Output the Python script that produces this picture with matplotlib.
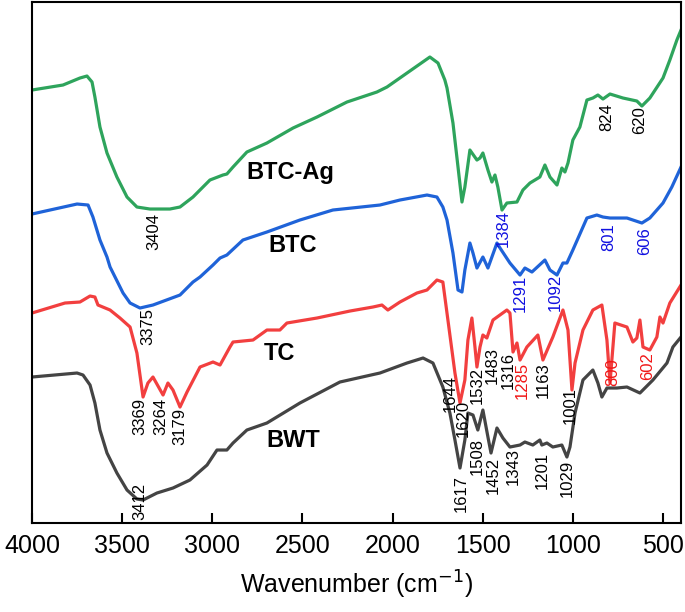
import matplotlib
matplotlib.use("Agg")
import matplotlib.pyplot as plt

plt.rcParams['font.family'] = ['Liberation Sans', 'DejaVu Sans']

# spectra: wavenumber (cm-1) and transmittance (a.u., stacked)
btcag_wn = [4000, 3828, 3734, 3695, 3667, 3651, 3623, 3584, 3529, 3473, 3418, 3346, 3235, 3179,
            3107, 3013, 2941, 2919, 2885, 2808, 2697, 2552, 2419, 2253, 2087, 2031, 1793, 1748,
            1710, 1698, 1665, 1637,
            1615, 1599, 1571, 1532, 1515, 1499, 1471, 1449, 1432, 1416, 1393, 1366, 1310, 1277,
            1238, 1183, 1155, 1127, 1088, 1061, 1044, 1027, 1000, 961, 922, 889, 861, 833, 794,
            722, 645, 617, 573, 500, 462, 423, 400]
btcag_t = [433, 438, 445, 447, 441, 426, 396, 370, 346, 326, 316, 314, 314, 316,
           326, 343, 348, 349, 356, 371, 380, 395, 406, 421, 431, 436, 466, 460,
           443, 435, 400, 356,
           321, 336, 373, 363, 365, 370, 353, 341, 348, 336, 313, 320, 321, 333,
           340, 346, 358, 346, 338, 355, 351, 360, 383, 396, 423, 425, 428, 424, 429,
           425, 422, 417, 425, 445, 463, 483, 493]

btc_wn = [4000, 3750, 3689, 3662, 3623, 3584, 3567, 3495, 3456, 3401, 3329, 3179, 3107, 3068,
          2996, 2957, 2919, 2830, 2697, 2514, 2331, 2070, 1959, 1809, 1754, 1721, 1698, 1665,
          1637, 1615,
          1599, 1571, 1554, 1532, 1499, 1471, 1421, 1404, 1349, 1293, 1266, 1227, 1155, 1127,
          1088, 1055, 1033, 1000, 922, 867, 833, 794, 700, 617, 573, 500, 451, 400]
btc_t = [309, 319, 318, 306, 283, 266, 256, 230, 220, 215, 218, 228, 241, 246,
         258, 265, 268, 283, 291, 303, 313, 318, 323, 328, 326, 316, 303, 270,
         233, 231,
         253, 280, 270, 255, 266, 255, 280, 275, 260, 248, 255, 251, 263, 253,
         248, 260, 260, 273, 305, 308, 306, 305, 305, 300, 305, 320, 336, 356]

tc_wn = [4000, 3817, 3734, 3678, 3651, 3634, 3567, 3512, 3456, 3418, 3384, 3357, 3329, 3273,
         3246, 3218, 3179, 3140, 3068, 2996, 2957, 2902, 2885, 2774, 2697, 2625, 2586, 2419,
         2236, 2109, 2059, 2026, 1959, 1865, 1809, 1754, 1721, 1693,
         1654, 1626, 1599, 1582, 1560, 1543, 1532, 1515, 1499,
         1477, 1443, 1366, 1349, 1332, 1310, 1293, 1255, 1194, 1166, 1111, 1055, 1027, 1005,
         988, 944, 889, 839, 811, 794, 767, 700, 667, 645, 628, 611, 573, 534, 517, 500, 462, 400]
tc_t = [210, 220, 221, 227, 226, 218, 213, 205, 196, 170, 126, 140, 146, 128,
        140, 133, 116, 131, 156, 161, 158, 176, 181, 183, 193, 193, 200, 205,
        212, 216, 218, 213, 221, 230, 233, 243, 241, 203,
        150, 120, 143, 183, 205, 176, 156, 176, 188,
        185, 203, 213, 210, 171, 180, 163, 176, 188, 163, 186, 213, 193, 133,
        160, 193, 213, 218, 183, 140, 200, 196, 181, 185, 203, 176, 173, 186, 206, 200, 220, 238]

bwt_wn = [4000, 3750, 3717, 3678, 3651, 3623, 3584, 3529, 3473, 3418, 3384, 3307, 3218, 3124,
          3029, 2974, 2919, 2885, 2808, 2697, 2514, 2292, 2070, 1920, 1831, 1776, 1721,
          1682, 1654, 1626, 1599, 1582, 1554, 1527, 1499, 1471, 1454, 1421, 1388, 1349, 1293,
          1266, 1222, 1183, 1172, 1144, 1111, 1061, 1033, 1016, 988, 944, 889, 861, 839, 811,
          756, 700, 628, 556, 478, 445, 400]
bwt_t = [146, 150, 148, 138, 120, 93, 70, 50, 33, 24, 23, 30, 35, 43,
         58, 73, 73, 80, 93, 100, 120, 141, 150, 160, 165, 160, 136,
         110, 83, 55, 83, 110, 108, 93, 113, 86, 70, 95, 85, 76, 78,
         81, 78, 83, 78, 80, 76, 78, 66, 76, 110, 143, 153, 140, 126, 135,
         135, 136, 130, 143, 160, 176, 186]

series_names = ["BTC-Ag", "BTC", "TC", "BWT"]
series_colors = ["#2ea45c", "#1f63d8", "#f23f3f", "#444444"]
name_pos = [(2569, 351), (2553, 278), (2625, 170), (2553, 83)]

# peak labels: text, colour, position (wn, top of text)
peak_text = ["3404", "3375", "3369", "3264", "3179", "3412",
             "1384", "1291", "1092", "801", "606", "824", "620",
             "1644", "1620", "1532", "1483", "1316", "1285", "1163", "1001", "800", "602",
             "1617", "1508", "1452", "1343", "1201", "1029"]
peak_color = ["k", "k", "k", "k", "k", "k",
              "#1010e0", "#1010e0", "#1010e0", "#1010e0", "#1010e0", "k", "k",
              "k", "k", "k", "k", "k", "#f01818", "k", "k", "#f01818", "#f01818",
              "k", "k", "k", "k", "k", "k"]
peak_pos = [(3323, 310), (3357, 215), (3401, 125), (3285, 125), (3179, 115), (3401, 40),
            (1388, 313), (1293, 248), (1099, 249), (800, 300), (600, 296), (811, 420), (628, 417),
            (1682, 148), (1610, 123), (1532, 156), (1449, 176), (1360, 171), (1282, 161),
            (1166, 161), (1016, 136), (778, 165), (584, 171),
            (1621, 48), (1532, 85), (1443, 66), (1332, 75), (1172, 71), (1033, 63)]

fig = plt.figure(figsize=(6.85, 6.12), dpi=100)
ax = fig.add_axes([0.0467, 0.1454, 0.9475, 0.8513])

spectra = [(btcag_wn, btcag_t), (btc_wn, btc_t), (tc_wn, tc_t), (bwt_wn, bwt_t)]
for (wn, t), c in zip(spectra, series_colors):
    ax.plot(wn, t, color=c, lw=2.3, solid_joinstyle='round')

for name, (x, y) in zip(series_names, name_pos):
    ax.text(x, y, name, fontsize=17, fontweight='bold', ha='center', va='center')

for txt, c, (x, y) in zip(peak_text, peak_color, peak_pos):
    ax.text(x, y, txt, fontsize=12, color=c, rotation=90, ha='center', va='top')

ax.set_xlim(4000, 400)
ax.set_ylim(0, 521)
ax.set_xticks([4000, 3500, 3000, 2500, 2000, 1500, 1000, 500])
ax.set_yticks([])
ax.tick_params(axis='x', direction='in', length=7, width=1.5, labelsize=18, pad=8)
for s in ax.spines.values():
    s.set_linewidth(1.5)
ax.set_xlabel("Wavenumber (cm$^{-1}$)", fontsize=18, labelpad=8)

fig.savefig("out.png", dpi=100)
